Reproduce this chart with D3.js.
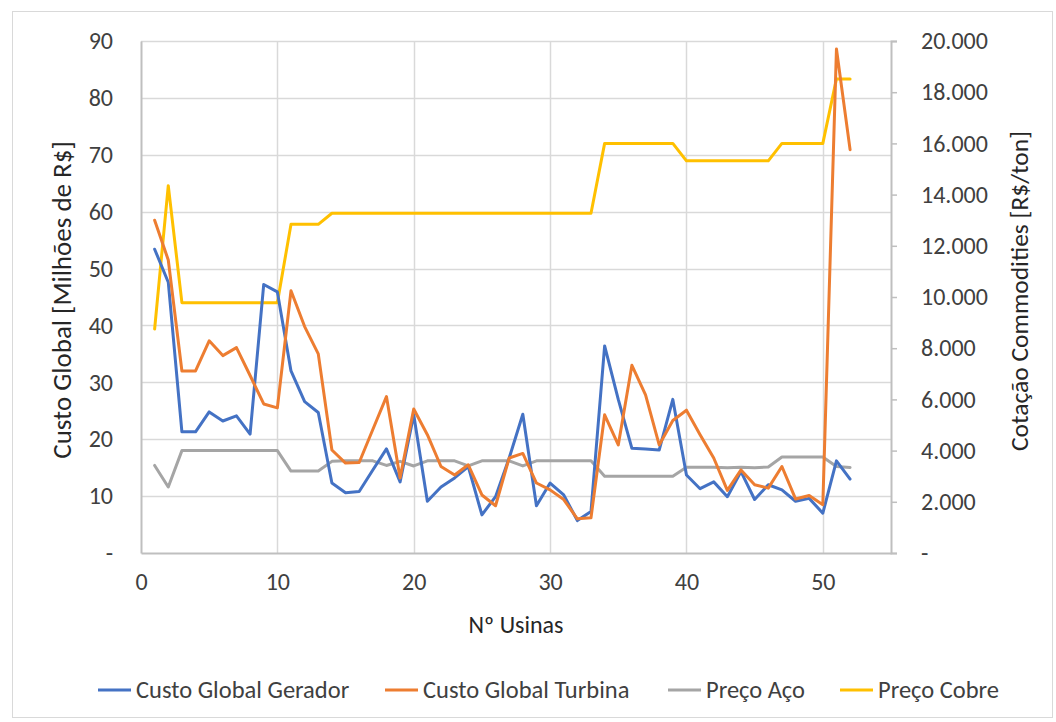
<!DOCTYPE html>
<html><head><meta charset="utf-8">
<script src="https://cdn.jsdelivr.net/npm/d3@7/dist/d3.min.js"></script>
<style>
body{margin:0;background:#fff;}
svg{font-family:"Carlito","Liberation Sans Narrow","Liberation Sans",sans-serif;}
</style></head><body>
<svg id="c" width="1056" height="722"></svg>
<script>
const usinas = d3.range(1, 53);
const gerador = [53.4,47.6,21.3,21.3,24.8,23.2,24.1,20.9,47.2,45.9,32.0,26.6,24.7,12.3,10.6,10.8,14.6,18.3,12.5,24.3,9.1,11.6,13.2,15.2,6.7,9.9,16.7,24.4,8.3,12.3,10.2,5.7,7.3,36.4,27.0,18.4,18.3,18.1,27.0,13.7,11.3,12.5,9.9,14.3,9.4,12.0,11.1,9.1,9.6,7.0,16.2,13.0];
const turbina = [58.5,51.5,32.0,32.0,37.3,34.7,36.1,31.2,26.2,25.5,46.1,39.8,35.0,18.1,15.8,15.9,21.7,27.5,13.2,25.3,20.8,15.2,13.7,15.5,10.2,8.3,16.7,17.5,12.3,11.1,9.4,6.0,6.2,24.3,19.0,33.0,27.8,19.0,23.3,25.1,20.8,16.7,11.0,14.6,12.0,11.4,15.2,9.5,10.1,8.5,88.6,70.9];
const precoAco = [3420,2580,4000,4000,4000,4000,4000,4000,4000,4000,3200,3200,3200,3580,3600,3600,3600,3420,3580,3400,3600,3600,3600,3400,3600,3600,3600,3400,3600,3600,3600,3600,3600,3000,3000,3000,3000,3000,3000,3350,3350,3350,3330,3350,3330,3360,3750,3750,3750,3750,3380,3340];
const precoCobre = [8750,14350,9780,9780,9780,9780,9780,9780,9780,9780,12840,12840,12840,13270,13270,13270,13270,13270,13270,13270,13270,13270,13270,13270,13270,13270,13270,13270,13270,13270,13270,13270,13270,16000,16000,16000,16000,16000,16000,15320,15320,15320,15320,15320,15320,15320,16000,16000,16000,16000,18520,18520];
const xTicks = [0,10,20,30,40,50];
const yLeftTicks = [0,10,20,30,40,50,60,70,80,90];
const yRightTicks = [0,2000,4000,6000,8000,10000,12000,14000,16000,18000,20000];
const seriesNames = ["Custo Global Gerador","Custo Global Turbina","Preço Aço","Preço Cobre"];
const colors = ["#4472C4","#ED7D31","#A5A5A5","#FFC000"];

const FONT = '"Carlito","Liberation Sans Narrow","Liberation Sans",sans-serif';
const svg = d3.select("#c");
const L=141, R=891, T=41, B=553;
const x = d3.scaleLinear().domain([0,55]).range([L,R]);
const yL = d3.scaleLinear().domain([0,90]).range([B,T]);
const yR = d3.scaleLinear().domain([0,20000]).range([B,T]);

// chart border
svg.append("rect").attr("x",12.5).attr("y",11.5).attr("width",1040).attr("height",706)
  .attr("fill","#fff").attr("stroke","#D9D9D9").attr("stroke-width",1);

// gridlines
const g = svg.append("g");
g.selectAll("line.h").data(yLeftTicks.filter(d=>d>0)).join("line")
  .attr("x1",L).attr("x2",R).attr("y1",d=>Math.round(yL(d))+0.5).attr("y2",d=>Math.round(yL(d))+0.5)
  .attr("stroke","#D9D9D9").attr("stroke-width",1.5);
g.selectAll("line.v").data(xTicks.filter(d=>d>0)).join("line")
  .attr("y1",T).attr("y2",B).attr("x1",d=>Math.round(x(d))+0.5).attr("x2",d=>Math.round(x(d))+0.5)
  .attr("stroke","#D9D9D9").attr("stroke-width",1.5);

const fmtR = v => v===0 ? "-" : d3.format(",")(v).replace(/,/g,".");
const fmtL = v => v===0 ? "-" : String(v);

// left axis
const axL = svg.append("g").attr("transform",`translate(${L},0)`)
  .call(d3.axisLeft(yL).tickValues(yLeftTicks).tickFormat(fmtL).tickSize(0).tickPadding(28));
// bottom axis
const axB = svg.append("g").attr("transform",`translate(0,${B})`)
  .call(d3.axisBottom(x).tickValues(xTicks).tickSize(0).tickPadding(20));
// right axis
const axR = svg.append("g").attr("transform",`translate(${R},0)`)
  .call(d3.axisRight(yR).tickValues(yRightTicks).tickFormat(fmtR).tickSize(6).tickPadding(24));
[axL,axB,axR].forEach(a=>{
  a.select(".domain").attr("stroke","#BFBFBF").attr("stroke-width",2);
  a.selectAll(".tick line").attr("stroke","#BFBFBF").attr("stroke-width",1.5);
  a.selectAll("text").attr("fill","#404040").attr("font-size",24).style("font-family",FONT);
});
axR.selectAll("text").attr("text-anchor","start");

// lines
const lineL = d3.line().x((d,i)=>x(usinas[i])).y(d=>yL(d));
const lineR = d3.line().x((d,i)=>x(usinas[i])).y(d=>yR(d));
const data = [[gerador,lineL],[turbina,lineL],[precoAco,lineR],[precoCobre,lineR]];
const drawOrder = [2,3,0,1];
drawOrder.forEach(k=>{
  svg.append("path").attr("d",data[k][1](data[k][0])).attr("fill","none")
    .attr("stroke",colors[k]).attr("stroke-width",3).attr("stroke-linejoin","round").attr("stroke-linecap","round");
});

// titles
svg.append("text").attr("transform",`translate(71,300) rotate(-90)`)
  .attr("text-anchor","middle").attr("font-size",27).attr("fill","#262626")
  .text("Custo Global [Milhões de R$]");
svg.append("text").attr("transform",`translate(1028,291) rotate(-90)`)
  .attr("text-anchor","middle").attr("font-size",25.5).attr("fill","#262626")
  .text("Cotação Commodities [R$/ton]");
svg.append("text").attr("x",(L+R)/2).attr("y",633).attr("text-anchor","middle")
  .attr("font-size",24).attr("fill","#262626").text("Nº Usinas");

// legend
const legX = [98,385,668,840];
const lg = svg.append("g");
seriesNames.forEach((n,i)=>{
  lg.append("line").attr("x1",legX[i]).attr("x2",legX[i]+33).attr("y1",690).attr("y2",690)
    .attr("stroke",colors[i]).attr("stroke-width",3);
  lg.append("text").attr("x",legX[i]+38).attr("y",698).attr("font-size",24.5).attr("fill","#404040").text(n);
});
</script></body></html>
